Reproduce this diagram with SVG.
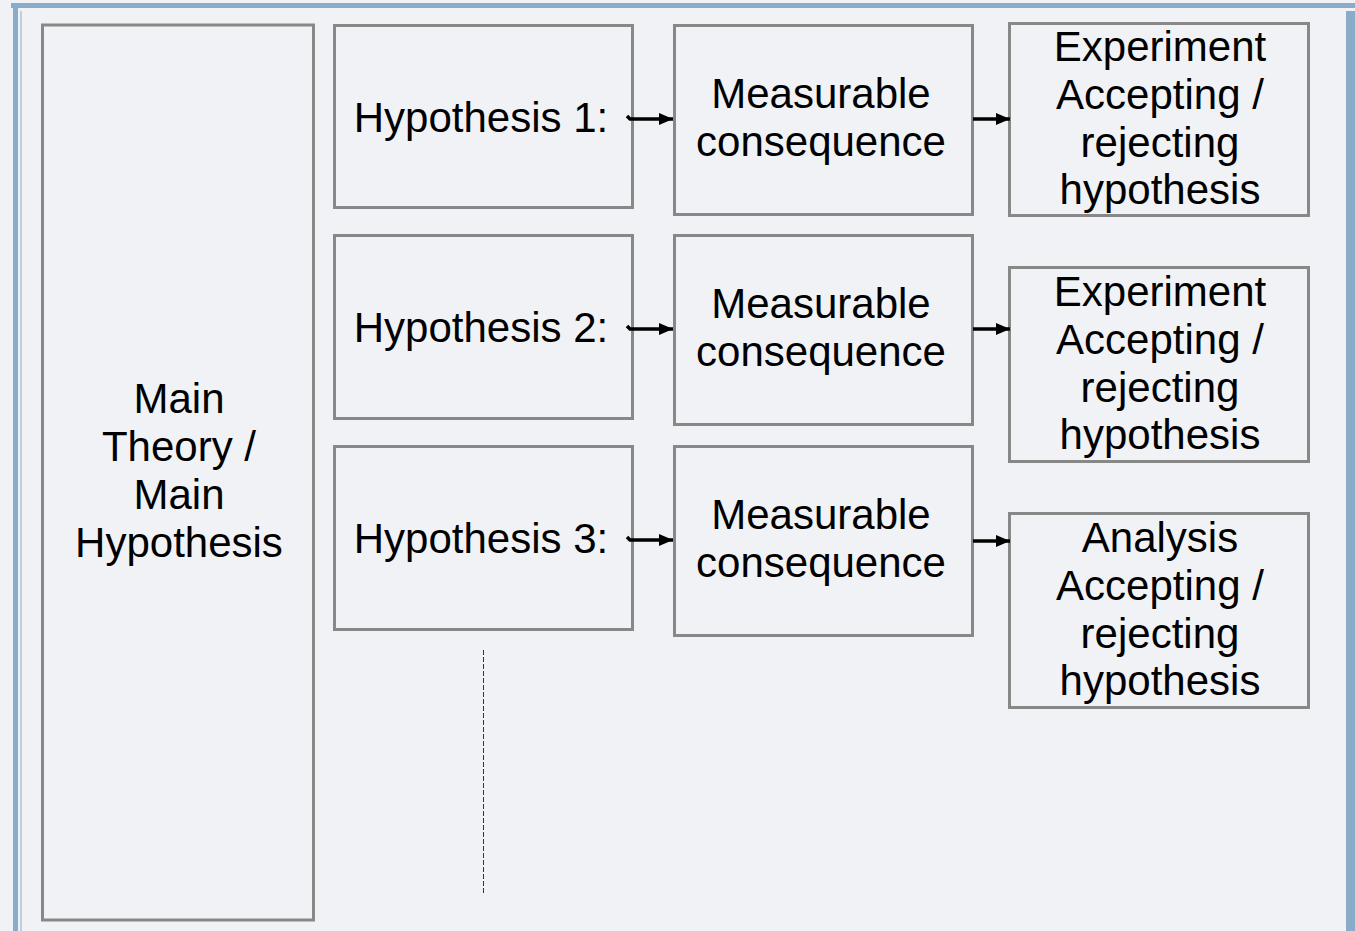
<svg xmlns="http://www.w3.org/2000/svg" width="1355" height="931" viewBox="0 0 1355 931">
<style>
.box{fill:none;stroke:#888888;stroke-width:3}
.t{font-family:"Liberation Sans",Arial,sans-serif;font-size:42px;fill:#000;text-anchor:middle}
.c{stroke:#000;stroke-width:3.5;fill:none}
</style>
<defs>
<marker id="ah" viewBox="0 0 14 12" markerWidth="14" markerHeight="12" refX="14" refY="6" orient="auto" markerUnits="userSpaceOnUse">
<path d="M0,0 L14,6 L0,12 Z" fill="#000"/>
</marker>
</defs>
<rect width="1355" height="931" fill="#f1f2f6"/>
<g id="frame">
<rect x="11" y="3" width="1344" height="5" fill="#8aacc8"/>
<rect x="13" y="8" width="5" height="923" fill="#8aacc8"/>
<rect x="20.5" y="11" width="1" height="920" fill="#8aacc8"/>
<rect x="1346" y="11" width="9" height="920" fill="#8aacc8"/>
</g>
<g id="main">
<rect class="box" x="42.5" y="25" width="271" height="895"/>
<text class="t" x="179" y="413">Main</text>
<text class="t" x="179" y="461">Theory /</text>
<text class="t" x="179" y="509">Main</text>
<text class="t" x="179" y="557">Hypothesis</text>
</g>
<g id="h1">
<rect class="box" x="334.5" y="25.5" width="298" height="182"/>
<text class="t" x="481" y="132">Hypothesis 1:</text>
</g>
<g id="h2">
<rect class="box" x="334.5" y="235.5" width="298" height="183"/>
<text class="t" x="481" y="342">Hypothesis 2:</text>
</g>
<g id="h3">
<rect class="box" x="334.5" y="446.5" width="298" height="183"/>
<text class="t" x="481" y="553">Hypothesis 3:</text>
</g>
<g id="m1">
<rect class="box" x="674.5" y="25.5" width="298" height="189"/>
<text class="t" x="821" y="108">Measurable</text>
<text class="t" x="821" y="156">consequence</text>
</g>
<g id="m2">
<rect class="box" x="674.5" y="235.5" width="298" height="189"/>
<text class="t" x="821" y="318">Measurable</text>
<text class="t" x="821" y="366">consequence</text>
</g>
<g id="m3">
<rect class="box" x="674.5" y="446.5" width="298" height="189"/>
<text class="t" x="821" y="529">Measurable</text>
<text class="t" x="821" y="577">consequence</text>
</g>
<g id="e1">
<rect class="box" x="1009.5" y="23.5" width="299" height="192"/>
<text class="t" x="1160" y="61">Experiment</text>
<text class="t" x="1160" y="109">Accepting /</text>
<text class="t" x="1160" y="157">rejecting</text>
<text class="t" x="1160" y="204">hypothesis</text>
</g>
<g id="e2">
<rect class="box" x="1009.5" y="267.5" width="299" height="194"/>
<text class="t" x="1160" y="306">Experiment</text>
<text class="t" x="1160" y="354">Accepting /</text>
<text class="t" x="1160" y="402">rejecting</text>
<text class="t" x="1160" y="449">hypothesis</text>
</g>
<g id="a3">
<rect class="box" x="1009.5" y="513.5" width="299" height="194"/>
<text class="t" x="1160" y="552">Analysis</text>
<text class="t" x="1160" y="600">Accepting /</text>
<text class="t" x="1160" y="648">rejecting</text>
<text class="t" x="1160" y="695">hypothesis</text>
</g>
<g id="connectors">
<path class="c" d="M627,116 L630,119 L673,119" marker-end="url(#ah)"/>
<path class="c" d="M627,326 L630,329 L673,329" marker-end="url(#ah)"/>
<path class="c" d="M627,537 L630,540 L673,540" marker-end="url(#ah)"/>
<path class="c" d="M973,119 L1010,119" marker-end="url(#ah)"/>
<path class="c" d="M973,329 L1010,329" marker-end="url(#ah)"/>
<path class="c" d="M973,541 L1010,541" marker-end="url(#ah)"/>
<line x1="483.5" y1="650" x2="483.5" y2="893" stroke="#333" stroke-width="1" stroke-dasharray="5,2"/>
</g>
</svg>
